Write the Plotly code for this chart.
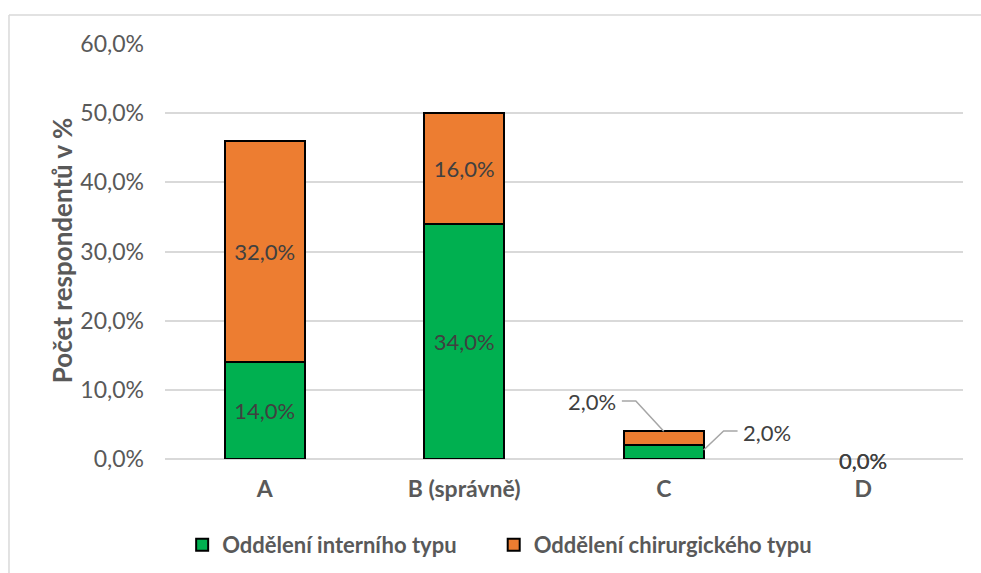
import plotly.graph_objects as go

categories = ["A", "B (správně)", "C", "D"]
interni = [14.0, 34.0, 2.0, 0.0]
chirurg = [32.0, 16.0, 2.0, 0.0]
series_names = ["Oddělení interního typu", "Oddělení chirurgického typu"]
y_ticks = [0, 10, 20, 30, 40, 50, 60]
y_tick_labels = ["0,0%", "10,0%", "20,0%", "30,0%", "40,0%", "50,0%", "60,0%"]

GREEN = "#00B050"
ORANGE = "#ED7D31"
FONT = "Lato"
TXT = "#595959"
LBL = "#404040"
LSIZE = 22

def fmt(v):
    return f"{v:.1f}".replace(".", ",") + "%"

inside_cats = [0, 1]  # labels drawn inside bars
legend_pad = ["\u00a0" * 6, ""]  # spacing after legend entries

fig = go.Figure()
for k, (vals, name, col) in enumerate(((interni, series_names[0], GREEN), (chirurg, series_names[1], ORANGE))):
    fig.add_trace(go.Bar(
        x=categories, y=vals, name=name + legend_pad[k],
        marker=dict(color=col, line=dict(color="black", width=[2 if v > 0 else 0 for v in vals])),
        text=[fmt(v) if i in inside_cats else "" for i, v in enumerate(vals)],
        textposition="inside", insidetextanchor="middle",
        textfont=dict(family=FONT, size=LSIZE, color=LBL),
    ))

annotations = []
shapes = []
# C labels with leader lines
ci = 2
top_c = interni[ci] + chirurg[ci]
annotations.append(dict(x=ci - 0.36, y=top_c + 4.3, xref="x", yref="y", text=fmt(chirurg[ci]),
                        showarrow=False, font=dict(family=FONT, size=LSIZE, color=LBL)))
shapes.append(dict(type="path", xref="x", yref="y",
                   path=f"M {ci-0.21},{top_c+4.4} L {ci-0.14},{top_c+4.4} L {ci},{top_c}",
                   line=dict(color="#A6A6A6", width=1.5)))
annotations.append(dict(x=ci + 0.52, y=interni[ci] + 1.9, xref="x", yref="y", text=fmt(interni[ci]),
                        showarrow=False, font=dict(family=FONT, size=LSIZE, color=LBL)))
shapes.append(dict(type="path", xref="x", yref="y",
                   path=f"M {ci+0.2},{interni[ci]*0.65} L {ci+0.3},{interni[ci]+2.05} L {ci+0.37},{interni[ci]+2.05}",
                   line=dict(color="#A6A6A6", width=1.5)))
# D labels (zero values, overlapping)
di = 3
for v in (interni[di], chirurg[di]):
    annotations.append(dict(x=di, y=v, xref="x", yref="y", yshift=-1, text=fmt(v),
                            showarrow=False, font=dict(family=FONT, size=LSIZE, color=LBL)))

# y-axis title
annotations.append(dict(x=-0.129, y=0.501, xref="paper", yref="paper", text="Počet respondentů v %",
                        xanchor="center", yanchor="middle",
                        textangle=-90, showarrow=False,
                        font=dict(family=FONT, size=26, color=TXT, weight="bold")))

# chart area border (top and left)
shapes.append(dict(type="line", xref="paper", yref="paper", x0=-0.1955, x1=1.05, y0=1.0699, y1=1.0699,
                   line=dict(color="#D9D9D9", width=1.5)))
shapes.append(dict(type="line", xref="paper", yref="paper", x0=-0.1955, x1=-0.1955, y0=-0.3, y1=1.0699,
                   line=dict(color="#D9D9D9", width=1.5)))

fig.update_layout(
    width=981, height=573,
    margin=dict(l=165, r=18, t=44, b=114, autoexpand=False),
    barmode="stack", bargap=0.6,
    plot_bgcolor="white", paper_bgcolor="white",
    font=dict(family=FONT, size=22, color=TXT),
    showlegend=True,
    legend=dict(orientation="h", x=0.0215, xanchor="left", y=-0.207, yanchor="middle",
                font=dict(family=FONT, size=22, color=TXT, weight="bold"), traceorder="normal",
                itemwidth=30),
    annotations=annotations, shapes=shapes,
)
fig.update_xaxes(showline=False, ticks="", automargin=False,
                 tickfont=dict(family=FONT, size=23, color=TXT, weight="bold"),
                 ticklabelstandoff=14)
fig.update_yaxes(range=[0, 60], tickvals=y_ticks, ticktext=y_tick_labels, showgrid=True, automargin=False,
                 gridcolor="#D9D9D9", gridwidth=1.5, zeroline=True, zerolinecolor="#D9D9D9", zerolinewidth=1.5,
                 showline=False, ticks="", ticklabelstandoff=20,
                 tickfont=dict(family=FONT, size=23, color=TXT))

fig.write_html("out.html")
